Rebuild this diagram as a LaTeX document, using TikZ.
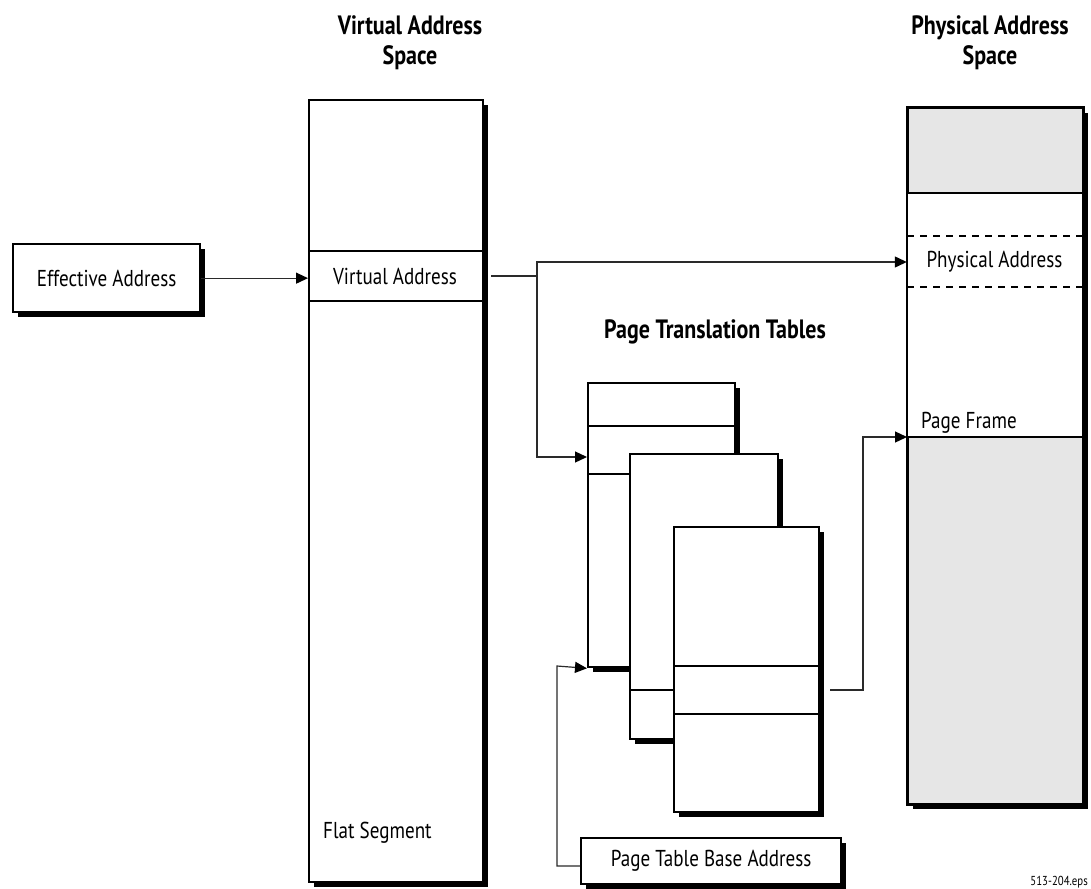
\documentclass[tikz,border=0pt]{standalone}
\usepackage{fontspec}
\setmainfont{PT Sans}[FakeStretch=0.83]
\usetikzlibrary{arrows.meta,shadows}
\definecolor{pgray}{HTML}{E6E6E6}
\definecolor{cgray}{HTML}{2A2A2A}
\begin{document}
\begin{tikzpicture}[x=1pt,y=-1pt,
  font=\fontsize{23}{27}\selectfont,
  boxsty/.style={draw=black, line width=2.3pt, fill=white, inner sep=0pt, anchor=north west,
    drop shadow={shadow xshift=4.5pt, shadow yshift=-4.5pt, fill=black, opacity=1}},
  rule/.style={line width=2.3pt},
  conn/.style={draw=cgray, line width=1.2pt},
  arr/.style={conn, -{Triangle[length=12pt,width=11pt,color=black,fill=black]}},
  title/.style={font=\fontsize{26.5}{30}\selectfont\bfseries, anchor=base, inner sep=0pt},
]
\useasboundingbox (0,0) rectangle (1091,888);

% titles
\node[title] (vt1) at (410,35) {Virtual Address};
\node[title] (vt2) at (410,65) {Space};
\node[title] (pt1) at (990,35) {Physical Address};
\node[title] (pt2) at (990,65) {Space};
\node[title] (ptt) at (715,338) {Page Translation Tables};

% effective address
\node[boxsty, minimum width=187pt, minimum height=68pt] (ea) at (12,243) {Effective Address};

% virtual address space
\node[boxsty, minimum width=174pt, minimum height=782pt] (vcol) at (308,99) {};
\draw[rule] (308,251) -- (482,251) (308,301) -- (482,301);
\node[minimum width=174pt, minimum height=50pt, inner sep=0pt] (va) at (395,276) {Virtual Address};
\node[anchor=base west, inner sep=0pt] (flat) at (323,838) {Flat Segment};

% physical address space
\node[boxsty, fill=pgray, minimum width=175pt, minimum height=696pt] (pcol) at (907,107) {};
\fill[white] (907,193) rectangle (1082,437);
\draw[rule] (907,193) -- (1082,193) (907,437) -- (1082,437);
\draw[rule] (pcol.north west) rectangle (pcol.south east);
\draw[rule, dash pattern=on 7pt off 6pt] (907,236) -- (1082,236) (907,287) -- (1082,287);
\node[minimum width=175pt, minimum height=51pt, inner sep=0pt] (pa) at (994.5,262) {Physical Address};
\node[anchor=base west, inner sep=0pt] (pf) at (921,428) {Page Frame};
\coordinate (pfl) at (907,437);

% page translation tables
\node[boxsty, minimum width=147pt, minimum height=284pt] (t1) at (587,382) {};
\draw[rule] (587,426) -- (734,426) (587,474) -- (734,474);
\node[boxsty, minimum width=148pt, minimum height=285pt] (t2) at (629,453) {};
\draw[rule] (629,690) -- (777,690);
\node[boxsty, minimum width=145pt, minimum height=285pt] (t3) at (673,526) {};
\draw[rule] (673,666) -- (818,666) (673,714) -- (818,714);
\node[minimum width=145pt, minimum height=48pt, inner sep=0pt] (t3row) at (745.5,690) {};

% page table base address
\node[boxsty, minimum width=260pt, minimum height=46pt] (ptba) at (580,837) {Page Table Base Address};

% file name
\node[font=\fontsize{13}{15}\selectfont, anchor=base east, inner sep=0pt] (eps) at (1088,885) {513-204.eps};

% connectors
\coordinate (jv) at (537,276);
\coordinate (jtop) at (537,262);
\coordinate (jbot) at (537,457);
\coordinate (k) at (863,690);
\coordinate (m1) at (557,866);
\coordinate (m2) at (557,666);

\draw[arr] (ea.east) -- (ea.east -| vcol.west);
\draw[conn] ([xshift=9pt]va.east) -- (jv);
\draw[arr] (jbot) -- (jtop) -- (jtop -| pa.west);
\draw[arr] (jv) -- (jbot) -- (jbot -| t1.west);
\draw[arr] ([xshift=12pt]t3row.east) -- (k) |- (pfl);
\draw[arr] (ptba.west |- m1) -- (m1) -- (m2) -- (t1.south west);
\end{tikzpicture}
\end{document}
